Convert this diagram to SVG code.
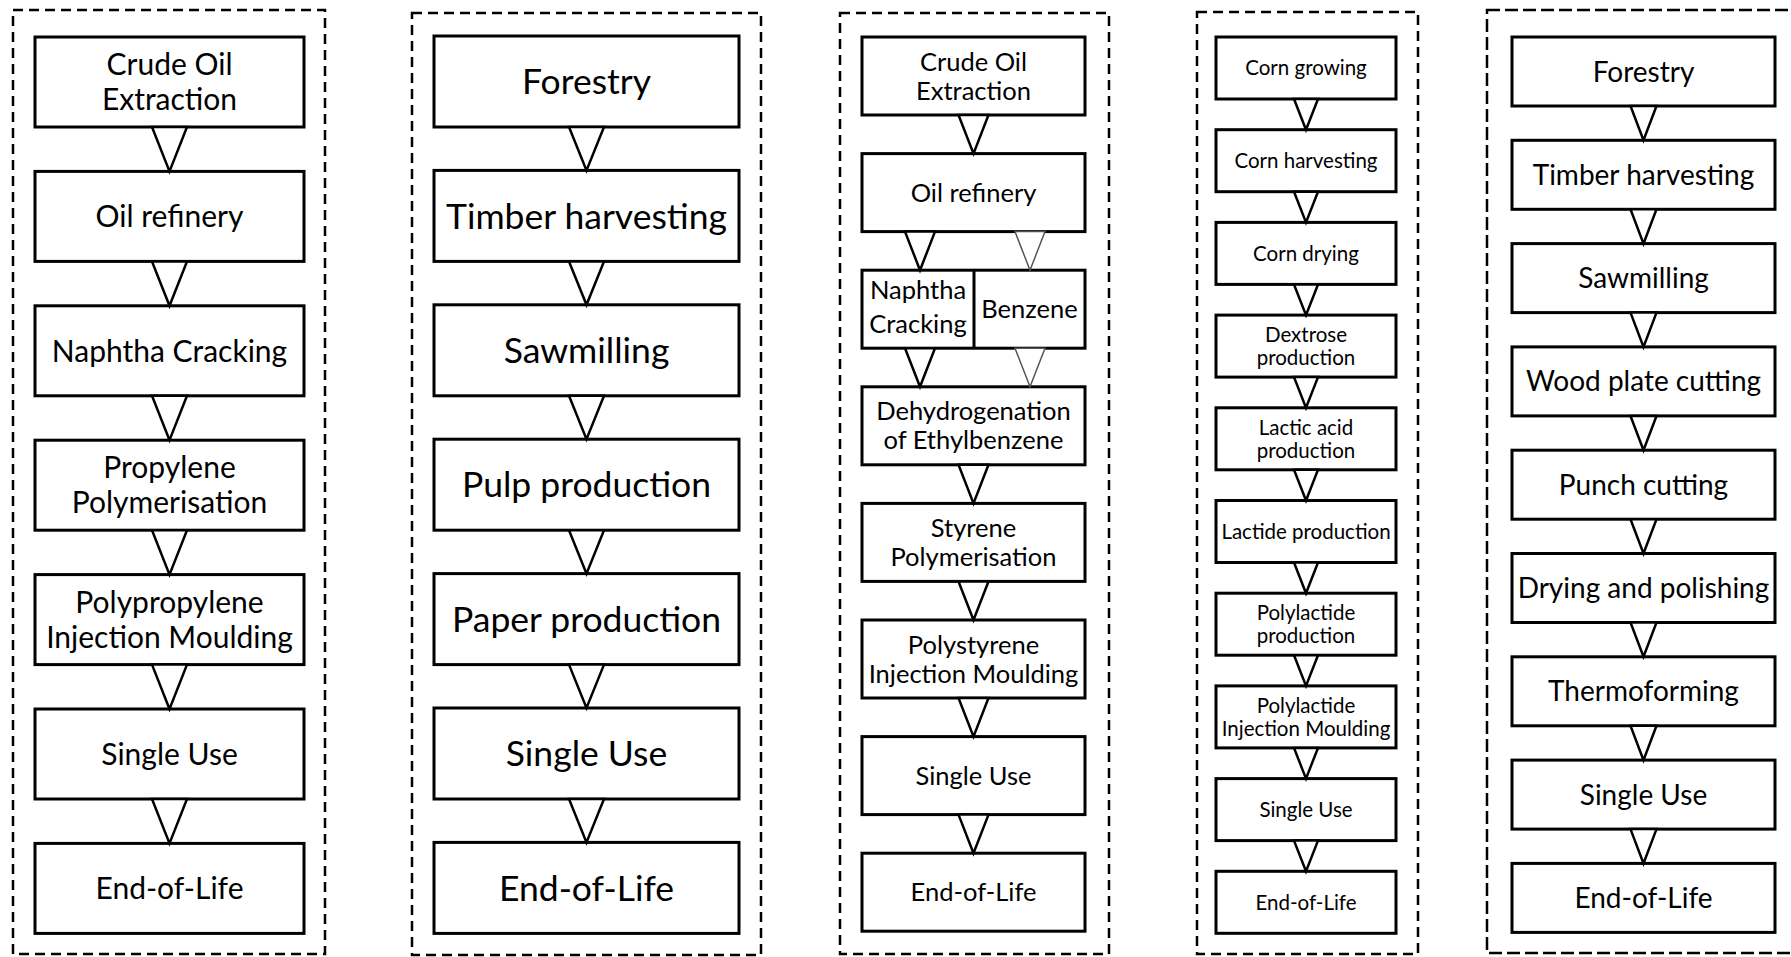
<svg xmlns="http://www.w3.org/2000/svg" width="1791" height="957" viewBox="0 0 1791 957">
<style>
.bg{fill:#fff}
.frame{fill:none;stroke:#000;stroke-width:2.5;stroke-dasharray:10 6}
.frame5{fill:none;stroke:#000;stroke-width:2.5;stroke-dasharray:13 5}
.box{fill:#fff;stroke:#000;stroke-width:3}
.div{stroke:#000;stroke-width:3}
.tri{fill:#fff;stroke:#000;stroke-width:2.5;stroke-linejoin:miter}
.trig{fill:#fff;stroke:#555;stroke-width:1.5;stroke-linejoin:miter}
text{font-family:Lato,"Open Sans","Liberation Sans",sans-serif;fill:#000;text-anchor:middle}
.c1{font-size:30px}
.c2{font-size:35.5px}
.c3{font-size:25.5px}
.c4{font-size:20.5px}
.c5{font-size:28px}
</style>
<rect class="bg" x="0" y="0" width="1791" height="957"/>
<g id="frames">
<rect class="frame" x="13" y="10" width="312" height="944"/>
<rect class="frame" x="412" y="13" width="349" height="942"/>
<rect class="frame" x="840" y="13" width="269" height="941"/>
<rect class="frame" x="1197" y="12" width="221" height="942"/>
<rect class="frame5" x="1487" y="10" width="310" height="943"/>
</g>
<!-- Column 1 -->
<g id="c1n1"><rect class="box" x="35" y="37" width="269" height="90"/><text class="c1" x="169.5" y="75.2">Crude Oil</text><text class="c1" x="169.5" y="110.2">Extraction</text></g>
<g id="c1n2"><rect class="box" x="35" y="171.4" width="269" height="90"/><text class="c1" x="169.5" y="227.1">Oil refinery</text></g>
<g id="c1n3"><rect class="box" x="35" y="305.8" width="269" height="90"/><text class="c1" x="169.5" y="361.5">Naphtha Cracking</text></g>
<g id="c1n4"><rect class="box" x="35" y="440.2" width="269" height="90"/><text class="c1" x="169.5" y="478.4">Propylene</text><text class="c1" x="169.5" y="513.4">Polymerisation</text></g>
<g id="c1n5"><rect class="box" x="35" y="574.6" width="269" height="90"/><text class="c1" x="169.5" y="612.8">Polypropylene</text><text class="c1" x="169.5" y="647.8">Injection Moulding</text></g>
<g id="c1n6"><rect class="box" x="35" y="709" width="269" height="90"/><text class="c1" x="169.5" y="764.7">Single Use</text></g>
<g id="c1n7"><rect class="box" x="35" y="843.4" width="269" height="90"/><text class="c1" x="169.5" y="899.1">End-of-Life</text></g>
<!-- Column 2 -->
<g id="c2n1"><rect class="box" x="434" y="36" width="305" height="91"/><text class="c2" x="586.5" y="94.2">Forestry</text></g>
<g id="c2n2"><rect class="box" x="434" y="170.4" width="305" height="91"/><text class="c2" x="586.5" y="228.6">Timber harvesting</text></g>
<g id="c2n3"><rect class="box" x="434" y="304.8" width="305" height="91"/><text class="c2" x="586.5" y="363">Sawmilling</text></g>
<g id="c2n4"><rect class="box" x="434" y="439.2" width="305" height="91"/><text class="c2" x="586.5" y="497.4">Pulp production</text></g>
<g id="c2n5"><rect class="box" x="434" y="573.6" width="305" height="91"/><text class="c2" x="586.5" y="631.8">Paper production</text></g>
<g id="c2n6"><rect class="box" x="434" y="708" width="305" height="91"/><text class="c2" x="586.5" y="766.2">Single Use</text></g>
<g id="c2n7"><rect class="box" x="434" y="842.4" width="305" height="91"/><text class="c2" x="586.5" y="900.6">End-of-Life</text></g>
<!-- Column 3 -->
<g id="c3n1"><rect class="box" x="862" y="37" width="223" height="78"/><text class="c3" x="973.5" y="70.6">Crude Oil</text><text class="c3" x="973.5" y="99.6">Extraction</text></g>
<g id="c3n2"><rect class="box" x="862" y="153.6" width="223" height="78"/><text class="c3" x="973.5" y="201.7">Oil refinery</text></g>
<g id="c3n3"><rect class="box" x="862" y="270.2" width="223" height="78"/><line class="div" x1="974" y1="270.2" x2="974" y2="348.2"/><text class="c3" x="918" y="299">Naphtha</text><text class="c3" x="918" y="333">Cracking</text><text class="c3" x="1029.5" y="318">Benzene</text></g>
<g id="c3n4"><rect class="box" x="862" y="386.8" width="223" height="78"/><text class="c3" x="973.5" y="420.4">Dehydrogenation</text><text class="c3" x="973.5" y="449.4">of Ethylbenzene</text></g>
<g id="c3n5"><rect class="box" x="862" y="503.4" width="223" height="78"/><text class="c3" x="973.5" y="537">Styrene</text><text class="c3" x="973.5" y="566">Polymerisation</text></g>
<g id="c3n6"><rect class="box" x="862" y="620" width="223" height="78"/><text class="c3" x="973.5" y="653.6">Polystyrene</text><text class="c3" x="973.5" y="682.6">Injection Moulding</text></g>
<g id="c3n7"><rect class="box" x="862" y="736.6" width="223" height="78"/><text class="c3" x="973.5" y="784.7">Single Use</text></g>
<g id="c3n8"><rect class="box" x="862" y="853.2" width="223" height="78"/><text class="c3" x="973.5" y="901.3">End-of-Life</text></g>
<!-- Column 4 -->
<g id="c4n1"><rect class="box" x="1216" y="37" width="180" height="62"/><text class="c4" x="1306" y="75.4">Corn growing</text></g>
<g id="c4n2"><rect class="box" x="1216" y="129.7" width="180" height="62"/><text class="c4" x="1306" y="168">Corn harvesting</text></g>
<g id="c4n3"><rect class="box" x="1216" y="222.4" width="180" height="62"/><text class="c4" x="1306" y="260.7">Corn drying</text></g>
<g id="c4n4"><rect class="box" x="1216" y="315.1" width="180" height="62"/><text class="c4" x="1306" y="342">Dextrose</text><text class="c4" x="1306" y="365">production</text></g>
<g id="c4n5"><rect class="box" x="1216" y="407.8" width="180" height="62"/><text class="c4" x="1306" y="434.6">Lactic acid</text><text class="c4" x="1306" y="457.6">production</text></g>
<g id="c4n6"><rect class="box" x="1216" y="500.5" width="180" height="62"/><text class="c4" x="1306" y="538.8">Lactide production</text></g>
<g id="c4n7"><rect class="box" x="1216" y="593.2" width="180" height="62"/><text class="c4" x="1306" y="620">Polylactide</text><text class="c4" x="1306" y="643">production</text></g>
<g id="c4n8"><rect class="box" x="1216" y="685.9" width="180" height="62"/><text class="c4" x="1306" y="712.7">Polylactide</text><text class="c4" x="1306" y="735.7">Injection Moulding</text></g>
<g id="c4n9"><rect class="box" x="1216" y="778.6" width="180" height="62"/><text class="c4" x="1306" y="817">Single Use</text></g>
<g id="c4n10"><rect class="box" x="1216" y="871.3" width="180" height="62"/><text class="c4" x="1306" y="909.6">End-of-Life</text></g>
<!-- Column 5 -->
<g id="c5n1"><rect class="box" x="1512" y="37" width="263" height="69"/><text class="c5" x="1643.5" y="81.5">Forestry</text></g>
<g id="c5n2"><rect class="box" x="1512" y="140.3" width="263" height="69"/><text class="c5" x="1643.5" y="184.8">Timber harvesting</text></g>
<g id="c5n3"><rect class="box" x="1512" y="243.6" width="263" height="69"/><text class="c5" x="1643.5" y="288.1">Sawmilling</text></g>
<g id="c5n4"><rect class="box" x="1512" y="346.9" width="263" height="69"/><text class="c5" x="1643.5" y="391.4">Wood plate cutting</text></g>
<g id="c5n5"><rect class="box" x="1512" y="450.2" width="263" height="69"/><text class="c5" x="1643.5" y="494.7">Punch cutting</text></g>
<g id="c5n6"><rect class="box" x="1512" y="553.5" width="263" height="69"/><text class="c5" x="1643.5" y="598">Drying and polishing</text></g>
<g id="c5n7"><rect class="box" x="1512" y="656.8" width="263" height="69"/><text class="c5" x="1643.5" y="701.3">Thermoforming</text></g>
<g id="c5n8"><rect class="box" x="1512" y="760.1" width="263" height="69"/><text class="c5" x="1643.5" y="804.6">Single Use</text></g>
<g id="c5n9"><rect class="box" x="1512" y="863.4" width="263" height="69"/><text class="c5" x="1643.5" y="907.9">End-of-Life</text></g>
<g id="connectors">
<polygon class="tri" points="152,127 187,127 169.5,171.4"/>
<polygon class="tri" points="152,261.4 187,261.4 169.5,305.8"/>
<polygon class="tri" points="152,395.8 187,395.8 169.5,440.2"/>
<polygon class="tri" points="152,530.2 187,530.2 169.5,574.6"/>
<polygon class="tri" points="152,664.6 187,664.6 169.5,709"/>
<polygon class="tri" points="152,799 187,799 169.5,843.4"/>
<polygon class="tri" points="569,127 604,127 586.5,170.4"/>
<polygon class="tri" points="569,261.4 604,261.4 586.5,304.8"/>
<polygon class="tri" points="569,395.8 604,395.8 586.5,439.2"/>
<polygon class="tri" points="569,530.2 604,530.2 586.5,573.6"/>
<polygon class="tri" points="569,664.6 604,664.6 586.5,708"/>
<polygon class="tri" points="569,799 604,799 586.5,842.4"/>
<polygon class="tri" points="958.5,115 988.5,115 973.5,153.6"/>
<polygon class="tri" points="905,231.6 935,231.6 920,270.2"/>
<polygon class="trig" points="1015,231.6 1045,231.6 1030,270.2"/>
<polygon class="tri" points="905,348.2 935,348.2 920,386.8"/>
<polygon class="trig" points="1015,348.2 1045,348.2 1030,386.8"/>
<polygon class="tri" points="958.5,464.8 988.5,464.8 973.5,503.4"/>
<polygon class="tri" points="958.5,581.4 988.5,581.4 973.5,620"/>
<polygon class="tri" points="958.5,698 988.5,698 973.5,736.6"/>
<polygon class="tri" points="958.5,814.6 988.5,814.6 973.5,853.2"/>
<polygon class="tri" points="1294,99 1318,99 1306,129.7"/>
<polygon class="tri" points="1294,191.7 1318,191.7 1306,222.4"/>
<polygon class="tri" points="1294,284.4 1318,284.4 1306,315.1"/>
<polygon class="tri" points="1294,377.1 1318,377.1 1306,407.8"/>
<polygon class="tri" points="1294,469.8 1318,469.8 1306,500.5"/>
<polygon class="tri" points="1294,562.5 1318,562.5 1306,593.2"/>
<polygon class="tri" points="1294,655.2 1318,655.2 1306,685.9"/>
<polygon class="tri" points="1294,747.9 1318,747.9 1306,778.6"/>
<polygon class="tri" points="1294,840.6 1318,840.6 1306,871.3"/>
<polygon class="tri" points="1630.5,106 1656.5,106 1643.5,140.3"/>
<polygon class="tri" points="1630.5,209.3 1656.5,209.3 1643.5,243.6"/>
<polygon class="tri" points="1630.5,312.6 1656.5,312.6 1643.5,346.9"/>
<polygon class="tri" points="1630.5,415.9 1656.5,415.9 1643.5,450.2"/>
<polygon class="tri" points="1630.5,519.2 1656.5,519.2 1643.5,553.5"/>
<polygon class="tri" points="1630.5,622.5 1656.5,622.5 1643.5,656.8"/>
<polygon class="tri" points="1630.5,725.8 1656.5,725.8 1643.5,760.1"/>
<polygon class="tri" points="1630.5,829.1 1656.5,829.1 1643.5,863.4"/>
</g>
</svg>
